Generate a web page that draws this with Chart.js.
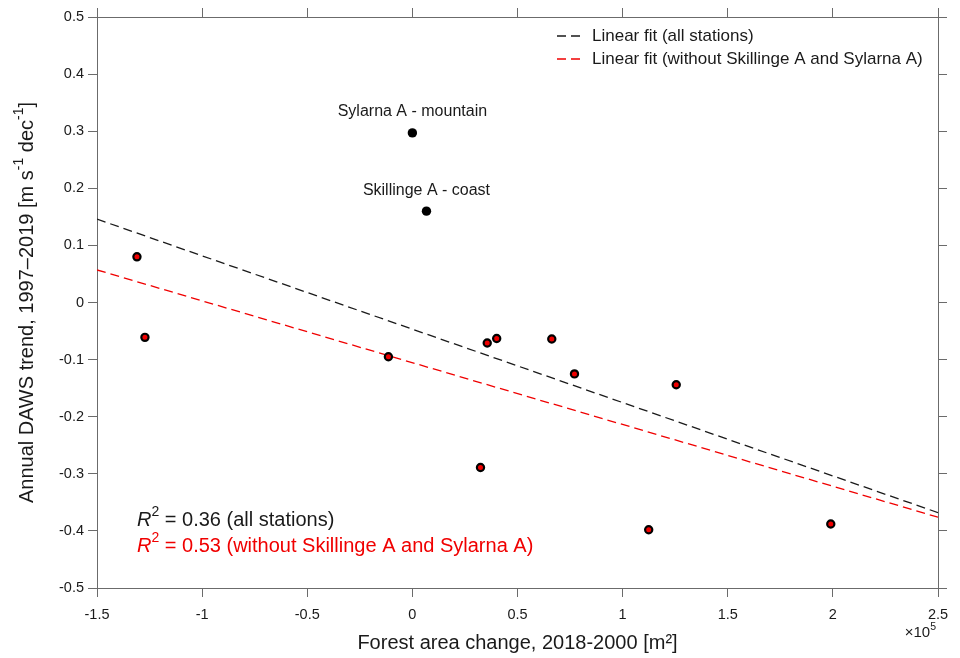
<!DOCTYPE html>
<html>
<head>
<meta charset="utf-8">
<script src="https://cdn.jsdelivr.net/npm/chart.js@4.4.0/dist/chart.umd.min.js"></script>
<style>
    html, body { margin: 0; padding: 0; background: #fff; }
    canvas { display: block; }
</style>
</head>
<body>
<canvas id="trendChart" width="960" height="658"></canvas>
<script>
// Forest area change (x10^5 m2) vs annual DAWS trend, one value per station
const stationX = [-1.31, -1.272, -0.114, 0.324, 0.356, 0.401, 0.663, 0.771, 1.124, 1.255, 1.990];
const stationY = [0.080, -0.061, -0.095, -0.289, -0.071, -0.063, -0.064, -0.125, -0.398, -0.144, -0.388];

// the two stations left out of the second fit
const outlierX = [0.0, 0.067];
const outlierY = [0.297, 0.160];
const outlierNames = ['Sylarna A - mountain', 'Skillinge A - coast'];

// fitted lines, read at the plot edges
const fitX = [-1.5, 2.5];
const fitAllY = [0.146, -0.368];
const fitSubY = [0.057, -0.376];

const xTicks = [-1.5, -1, -0.5, 0, 0.5, 1, 1.5, 2, 2.5];
const xTickLabels = ['-1.5', '-1', '-0.5', '0', '0.5', '1', '1.5', '2', '2.5'];
const yTicks = [-0.5, -0.4, -0.3, -0.2, -0.1, 0, 0.1, 0.2, 0.3, 0.4, 0.5];
const yTickLabels = ['-0.5', '-0.4', '-0.3', '-0.2', '-0.1', '0', '0.1', '0.2', '0.3', '0.4', '0.5'];

const legendLabels = ['Linear fit (all stations)', 'Linear fit (without Skillinge A and Sylarna A)'];
const r2Values = ['0.36', '0.53'];
const r2Notes = ['(all stations)', '(without Skillinge A and Sylarna A)'];

const FONT = "'Liberation Sans', Arial, Helvetica, sans-serif";
const AXIS_COLOR = '#6b6b6b';
const TEXT_COLOR = '#1a1a1a';
const RED = '#f00000';

Chart.defaults.font.family = FONT;

function toPoints(xs, ys) {
    return xs.map((x, i) => ({ x: x, y: ys[i] }));
}

// text with raised small parts (superscripts) and italic parts
function drawRich(ctx, parts, x, y, size, color) {
    ctx.save();
    ctx.fillStyle = color;
    ctx.textBaseline = 'middle';
    ctx.textAlign = 'left';
    let cx = x;
    parts.forEach(p => {
        const s = p.sup ? size * 0.7 : size;
        ctx.font = (p.italic ? 'italic ' : '') + s + 'px ' + FONT;
        ctx.fillText(p.text, cx, p.sup ? y - size * 0.38 : y);
        cx += ctx.measureText(p.text).width;
    });
    ctx.restore();
    return cx - x;
}

function richWidth(ctx, parts, size) {
    let w = 0;
    parts.forEach(p => {
        const s = p.sup ? size * 0.7 : size;
        ctx.font = (p.italic ? 'italic ' : '') + s + 'px ' + FONT;
        w += ctx.measureText(p.text).width;
    });
    return w;
}

const overlayPlugin = {
    id: 'overlayText',
    afterDraw(chart) {
        const { ctx, chartArea: area, scales } = chart;
        const xs = scales.x, ys = scales.y;

        // station names above the two outliers
        ctx.save();
        ctx.font = '16px ' + FONT;
        ctx.fillStyle = TEXT_COLOR;
        ctx.textAlign = 'center';
        ctx.textBaseline = 'middle';
        outlierNames.forEach((name, i) => {
            ctx.fillText(name, xs.getPixelForValue(outlierX[i]), ys.getPixelForValue(outlierY[i]) - 21);
        });
        ctx.restore();

        // legend in the upper right corner
        const colors = ['#1a1a1a', RED];
        ctx.save();
        ctx.font = '17px ' + FONT;
        ctx.textBaseline = 'middle';
        legendLabels.forEach((label, i) => {
            const ly = area.top + 19 + i * 23;
            ctx.strokeStyle = colors[i];
            ctx.lineWidth = 1.4;
            ctx.setLineDash([9, 5]);
            ctx.beginPath();
            ctx.moveTo(area.right - 381, ly);
            ctx.lineTo(area.right - 358, ly);
            ctx.stroke();
            ctx.setLineDash([]);
            ctx.fillStyle = TEXT_COLOR;
            ctx.fillText(label, area.right - 346, ly);
        });
        ctx.restore();

        // R^2 notes
        [TEXT_COLOR, RED].forEach((c, i) => {
            drawRich(ctx, [
                { text: 'R', italic: true },
                { text: '2', sup: true },
                { text: ' = ' + r2Values[i] + ' ' + r2Notes[i] }
            ], area.left + 40, area.bottom - 68 + i * 26, 20, c);
        });

        // exponent of the x axis
        const expParts = [{ text: '\u00d710' }, { text: '5', sup: true }];
        const ew = richWidth(ctx, expParts, 15);
        drawRich(ctx, expParts, area.right - 2 - ew, 633, 15, TEXT_COLOR);

        // y axis title with superscripts
        const titleParts = [
            { text: 'Annual DAWS trend, 1997\u20132019 [m s' },
            { text: '-1', sup: true },
            { text: ' dec' },
            { text: '-1', sup: true },
            { text: ']' }
        ];
        const tw = richWidth(ctx, titleParts, 20);
        ctx.save();
        ctx.translate(27, (area.top + area.bottom) / 2);
        ctx.rotate(-Math.PI / 2);
        drawRich(ctx, titleParts, -tw / 2, 0, 20, TEXT_COLOR);
        ctx.restore();
    }
};

function tickScale(extra) {
    return Object.assign({
        type: 'linear',
        grid: { drawOnChartArea: false, drawTicks: true, tickLength: 9, color: AXIS_COLOR, lineWidth: 1 },
        border: { color: AXIS_COLOR, width: 1 }
    }, extra);
}

const chart = new Chart(document.getElementById('trendChart'), {
    type: 'scatter',
    data: {
        datasets: [
            {
                label: 'stations',
                data: toPoints(stationX, stationY),
                pointRadius: 3.6,
                pointBackgroundColor: RED,
                pointBorderColor: '#000',
                pointBorderWidth: 2.2
            },
            {
                label: 'outliers',
                data: toPoints(outlierX, outlierY),
                pointRadius: 4.7,
                pointBackgroundColor: '#000',
                pointBorderWidth: 0
            },
            {
                label: legendLabels[0],
                data: toPoints(fitX, fitAllY),
                showLine: true,
                pointRadius: 0,
                borderColor: '#1a1a1a',
                borderWidth: 1.3,
                borderDash: [9, 5]
            },
            {
                label: legendLabels[1],
                data: toPoints(fitX, fitSubY),
                showLine: true,
                pointRadius: 0,
                borderColor: RED,
                borderWidth: 1.3,
                borderDash: [9, 5]
            }
        ]
    },
    options: {
        responsive: false,
        animation: false,
        layout: { padding: 0 },
        plugins: {
            legend: { display: false },
            tooltip: { enabled: false }
        },
        scales: {
            x: tickScale({
                position: 'bottom',
                min: -1.5,
                max: 2.5,
                afterBuildTicks: s => { s.ticks = xTicks.map(v => ({ value: v })); },
                ticks: {
                    callback: (v, i) => xTickLabels[i],
                    font: { size: 14.5 },
                    color: TEXT_COLOR,
                    padding: 9,
                    maxRotation: 0,
                    autoSkip: false
                },
                title: {
                    display: true,
                    text: 'Forest area change, 2018-2000 [m\u00b2]',
                    font: { size: 20 },
                    color: TEXT_COLOR,
                    padding: { top: 0, bottom: 3 }
                },
                afterFit: s => { s.height = 70; }
            }),
            x2: tickScale({
                position: 'top',
                min: -1.5,
                max: 2.5,
                afterBuildTicks: s => { s.ticks = xTicks.map(v => ({ value: v })); },
                ticks: { display: false },
                afterFit: s => { s.height = 17; }
            }),
            y: tickScale({
                position: 'left',
                min: -0.5,
                max: 0.5,
                afterBuildTicks: s => { s.ticks = yTicks.map(v => ({ value: v })); },
                ticks: {
                    callback: (v, i) => yTickLabels[i],
                    font: { size: 14.5 },
                    color: TEXT_COLOR,
                    padding: 4,
                    autoSkip: false
                },
                afterFit: s => { s.width = 97; }
            }),
            y2: tickScale({
                position: 'right',
                min: -0.5,
                max: 0.5,
                afterBuildTicks: s => { s.ticks = yTicks.map(v => ({ value: v })); },
                ticks: { display: false },
                afterFit: s => { s.width = 22; }
            })
        }
    },
    plugins: [overlayPlugin]
});
</script>
</body>
</html>
